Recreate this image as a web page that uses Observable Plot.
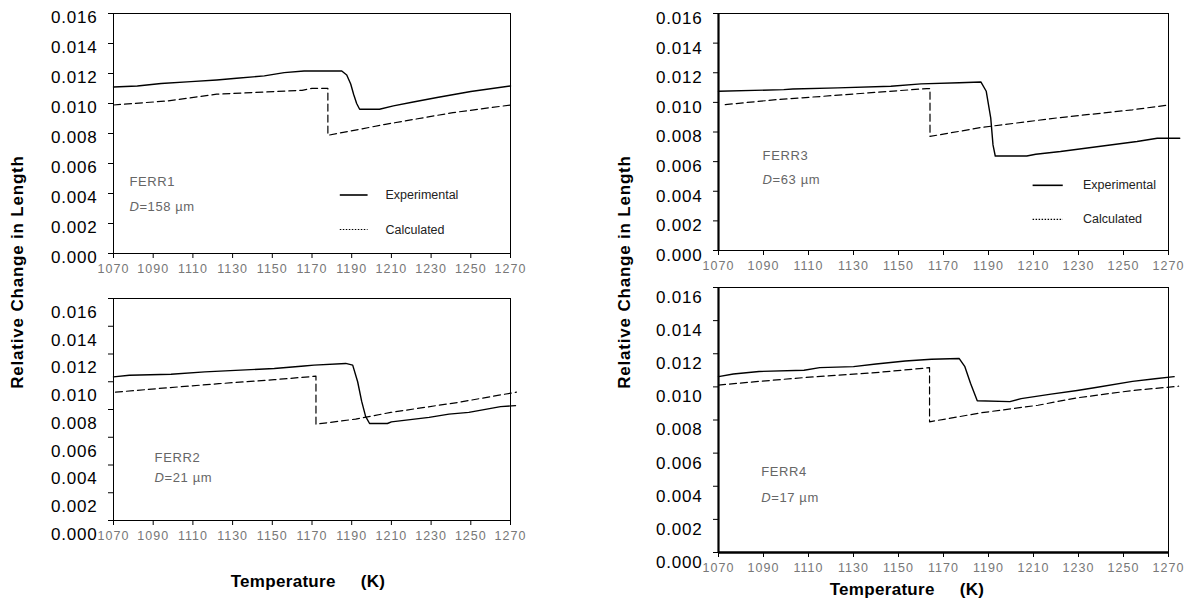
<!DOCTYPE html>
<html><head><meta charset="utf-8">
<script src="https://cdn.jsdelivr.net/npm/d3@7"></script>
<script src="https://cdn.jsdelivr.net/npm/@observablehq/plot@0.6"></script>
<style>
body{margin:0;background:#fff;}
#wrap{position:relative;width:1203px;height:604px;overflow:hidden;font-family:"Liberation Sans",Arial,sans-serif;}
.panel{position:absolute;}
.panel svg{overflow:visible;}
.panel [aria-label="x-axis tick label"] text{letter-spacing:1px;}
.panel [aria-label="y-axis tick label"] text{letter-spacing:0.8px;}
.panel .note text{letter-spacing:0.6px;}
.ytitle{position:absolute;font-weight:bold;font-size:17px;white-space:nowrap;transform:translate(-50%,-50%) rotate(-90deg);color:#000;letter-spacing:0.8px;}
.xtitle{position:absolute;font-weight:bold;font-size:17px;white-space:pre;transform:translate(-50%,-50%);color:#000;letter-spacing:0.3px;}
</style></head><body><div id="wrap"></div>
<script>
// ---- tick labels ----
const xTicks = [1070,1090,1110,1130,1150,1170,1190,1210,1230,1250,1270];
const yTicks = [0,0.002,0.004,0.006,0.008,0.010,0.012,0.014,0.016];

// ---- series ----
const ferr1ExpT = [1070,1082,1094,1109,1122,1132,1146,1156,1166,1185,1187.5,1189.5,1191,1192.5,1194,1204,1211,1221,1233,1250,1270];
const ferr1ExpV = [0.0111,0.01117,0.01133,0.01146,0.01157,0.01168,0.01184,0.01206,0.01217,0.01217,0.0119,0.0113,0.0106,0.0100,0.00962,0.00962,0.00984,0.0101,0.0104,0.0108,0.01117];
const ferr1CalcT = [1070,1097,1122,1165,1170,1178,1178,1207,1241,1270];
const ferr1CalcV = [0.0099,0.01017,0.01062,0.01088,0.01101,0.01101,0.00788,0.00861,0.00939,0.0099];

const ferr2ExpT = [1070,1078,1099,1116,1134,1151,1166,1171,1187,1190.5,1193,1195,1197,1199,1208,1210,1229,1239,1249,1265,1272.5];
const ferr2ExpV = [0.01035,0.01047,0.01054,0.01071,0.01084,0.01096,0.01113,0.0112,0.01132,0.0112,0.0100,0.0086,0.0075,0.00699,0.00699,0.00711,0.00743,0.00767,0.00779,0.00821,0.00828];
const ferr2CalcT = [1071,1097.6,1123,1151,1172,1172,1192,1209.7,1244,1273];
const ferr2CalcV = [0.00925,0.00957,0.00986,0.01015,0.0104,0.00694,0.00731,0.00779,0.00852,0.00925];

const ferr3ExpT = [1070,1099,1103,1123,1146.6,1160,1177,1186.6,1189,1191,1192,1193,1207,1211,1222,1239,1256,1265,1275];
const ferr3ExpV = [0.01075,0.01086,0.0109,0.01098,0.01109,0.01125,0.01132,0.01138,0.01075,0.00894,0.00713,0.00638,0.00638,0.0065,0.00668,0.00702,0.00736,0.00758,0.00758];
const ferr3CalcT = [1073,1096,1116.5,1136.6,1162.6,1164,1164,1187,1220.5,1254,1269];
const ferr3CalcV = [0.00985,0.01019,0.01041,0.01064,0.01093,0.01093,0.0077,0.00831,0.00895,0.0095,0.0098];

const ferr4ExpT = [1070,1076.6,1088,1108,1115,1130,1140,1153,1164.6,1177,1179.5,1182,1185,1199.5,1204.5,1217.8,1229.4,1237.7,1254,1264,1272.5];
const ferr4ExpV = [0.01062,0.01078,0.01093,0.011,0.01116,0.01122,0.01138,0.01156,0.01167,0.01171,0.01122,0.01022,0.00916,0.00911,0.00929,0.00956,0.00978,0.00996,0.01033,0.01049,0.01062];
const ferr4CalcT = [1070,1088,1108,1138,1163.8,1163.8,1187,1212,1229,1254,1274.5];
const ferr4CalcV = [0.01011,0.01033,0.01056,0.01084,0.01116,0.00789,0.00844,0.00889,0.00933,0.00978,0.01004];

// ---- labels ----
const sampleNames = ["FERR1","FERR2","FERR3","FERR4"];
const diameterLabels = ["=158 \u00b5m","=21 \u00b5m","=63 \u00b5m","=17 \u00b5m"];
const seriesNames = ["Experimental","Calculated"];
const yTitle = "Relative Change in Length";
const xTitle = "Temperature     (K)";

// ---- layout / style (not data) ----
const panels = [
  {expT:ferr1ExpT,expV:ferr1ExpV,calcT:ferr1CalcT,calcV:ferr1CalcV,name:0,
   left:0,top:0,w:560,h:290,ml:113,mr:50,mt:13,mb:37,labDy:4,
   note:{x:1078,y1:0.0048,y2:0.0031}, legend:{x1:1184,x2:1198,xt:1207,y1:0.0039,y2:0.0016}},
  {expT:ferr2ExpT,expV:ferr2ExpV,calcT:ferr2CalcT,calcV:ferr2CalcV,name:1,
   left:0,top:280,w:560,h:280,ml:113,mr:50,mt:18,mb:40,labDy:14,
   note:{x:1090.7,y1:0.0045,y2:0.00304}},
  {expT:ferr3ExpT,expV:ferr3ExpV,calcT:ferr3CalcT,calcV:ferr3CalcV,name:2,
   left:600,top:0,w:603,h:285,ml:118,mr:35,mt:13,mb:35,labDy:5,thick:"left",
   note:{x:1089.6,y1:0.0064,y2:0.00476}, legend:{x1:1209.6,x2:1223,xt:1232,y1:0.0044,y2:0.0021}},
  {expT:ferr4ExpT,expV:ferr4ExpV,calcT:ferr4CalcT,calcV:ferr4CalcV,name:3,
   left:600,top:275,w:603,h:300,ml:118,mr:35,mt:12,mb:23,labDy:10,thick:"both",
   note:{x:1089,y1:0.0049,y2:0.0033}}
];

const wrap = document.getElementById("wrap");
const fmtY = d3.format(".3f");

for (const p of panels) {
  const exp = p.expT.map((t,i)=>({t, v:p.expV[i]}));
  const calc = p.calcT.map((t,i)=>({t, v:p.calcV[i]}));
  const marks = [
    Plot.frame({stroke:"#000", strokeWidth:1}),
    Plot.axisX({ticks:xTicks, tickFormat:d=>String(d), tickSize:5, tickPadding:6, fontSize:12.5, fill:"#777", stroke:"#000", label:null}),
    Plot.axisY({ticks:yTicks, tickFormat:()=>"", tickSize:5, stroke:"#000", label:null}),
    Plot.axisY({ticks:yTicks, tickFormat:fmtY, tickSize:5, tickPadding:11, fontSize:17, fill:"#000", stroke:"none", dy:p.labDy, label:null}),
  ];
  if (p.thick === "left" || p.thick === "both") marks.push(Plot.ruleX([xTicks[0]], {stroke:"#000", strokeWidth:2.2}));
  if (p.thick === "both") marks.push(Plot.ruleY([yTicks[0]], {stroke:"#000", strokeWidth:2.5}));
  marks.push(
    Plot.line(calc, {x:"t", y:"v", stroke:"#000", strokeWidth:1.2, strokeDasharray:"7,4"}),
    Plot.line(exp, {x:"t", y:"v", stroke:"#000", strokeWidth:1.4}),
    Plot.text([sampleNames[p.name]], {x:p.note.x, y:p.note.y1, text:d=>d, textAnchor:"start", fontSize:13, fill:"#666", className:"note"}),
    Plot.text(["D"], {x:p.note.x, y:p.note.y2, text:d=>d, textAnchor:"start", fontSize:13, fill:"#666", fontStyle:"italic"}),
    Plot.text([diameterLabels[p.name]], {x:p.note.x, y:p.note.y2, text:d=>d, textAnchor:"start", fontSize:13, fill:"#666", dx:10, className:"note"})
  );
  if (p.legend) {
    const L = p.legend;
    const legRows = seriesNames.map((s,i)=>({s, y: i===0 ? L.y1 : L.y2}));
    marks.push(
      Plot.link([legRows[0]], {x1:L.x1, x2:L.x2, y1:"y", y2:"y", stroke:"#000", strokeWidth:1.6}),
      Plot.link([legRows[1]], {x1:L.x1, x2:L.x2, y1:"y", y2:"y", stroke:"#000", strokeWidth:1.2, strokeDasharray:"1.5,1.5"}),
      Plot.text(legRows, {x:L.xt, y:"y", text:"s", textAnchor:"start", fontSize:12.5, fill:"#222"})
    );
  }
  const chart = Plot.plot({
    width:p.w, height:p.h,
    marginLeft:p.ml, marginRight:p.mr, marginTop:p.mt, marginBottom:p.mb,
    x:{domain:[1070,1270]},
    y:{domain:[0,0.016]},
    style:{fontFamily:'"Liberation Sans",Arial,sans-serif', background:"transparent"},
    marks
  });
  const div = document.createElement("div");
  div.className = "panel";
  div.style.left = p.left + "px";
  div.style.top = p.top + "px";
  div.appendChild(chart);
  wrap.appendChild(div);
}

// axis titles (HTML text)
const titles = [
  {cls:"ytitle", text:yTitle, x:18, y:272},
  {cls:"ytitle", text:yTitle, x:625, y:272},
  {cls:"xtitle", text:xTitle, x:308, y:582},
  {cls:"xtitle", text:xTitle, x:907, y:590}
];
for (const t of titles) {
  const d = document.createElement("div");
  d.className = t.cls;
  d.textContent = t.text;
  d.style.left = t.x + "px";
  d.style.top = t.y + "px";
  wrap.appendChild(d);
}
</script></body></html>
